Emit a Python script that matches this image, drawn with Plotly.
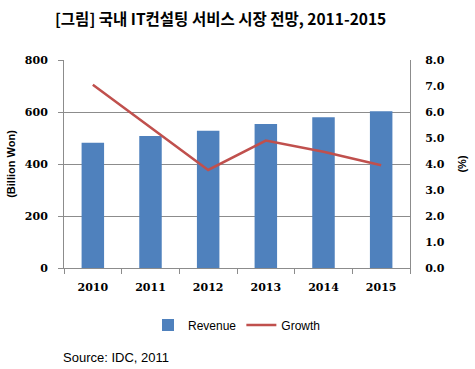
import plotly.graph_objects as go

years = ["2010", "2011", "2012", "2013", "2014", "2015"]
revenue = [482, 508, 528, 554, 580, 603]
growth = [7.05, 5.4, 3.77, 4.9, 4.47, 3.95]

title_text = "[그림] 국내 IT컨설팅 서비스 시장 전망, 2011-2015"
source_text = "Source: IDC, 2011"

tick_font = dict(family="DejaVu Serif", size=11, color="#000000", weight="bold")
grid_col = "#8C8C8C"

fig = go.Figure()
fig.add_trace(go.Bar(x=years, y=revenue, name="Revenue", marker=dict(color="#4F81BD", line=dict(width=0)),
                     width=0.39, yaxis="y"))
fig.add_trace(go.Scatter(x=years, y=growth, name="Growth", mode="lines",
                         line=dict(color="#C0504D", width=2.5), yaxis="y2"))

fig.update_layout(
    width=475, height=369,
    margin=dict(l=64, r=65, t=60, b=101, autoexpand=False),
    paper_bgcolor="white", plot_bgcolor="white",
    showlegend=True,
    legend=dict(orientation="h", x=0.5, xanchor="center", y=-0.274, yanchor="middle",
                font=dict(family="Liberation Sans", size=12, color="#000000"),
                traceorder="normal", itemwidth=30, tracegroupgap=0),
    xaxis=dict(type="category", tickfont=tick_font, showline=True, linecolor=grid_col, linewidth=1,
               ticks="outside", ticklen=5, tickcolor=grid_col, tickson="boundaries", showgrid=False,
               range=[-0.5, 5.5], automargin=False, ticklabelstandoff=9),
    yaxis=dict(range=[0, 800], dtick=200, tickfont=tick_font, showgrid=True, gridcolor=grid_col,
               gridwidth=1, showline=True, linecolor=grid_col, ticks="outside", ticklen=5,
               tickcolor=grid_col, zeroline=False, automargin=False, ticklabelstandoff=8,
               title=dict(text="(Billion Won)", font=dict(family="Liberation Sans", size=11, weight="bold", color="#000000"), standoff=6)),
    yaxis2=dict(range=[0, 8], dtick=1, tickformat=".1f", overlaying="y", side="right",
                tickfont=tick_font, showgrid=False, showline=True, linecolor=grid_col,
                ticks="", zeroline=False, automargin=False, ticklabelstandoff=12,
                title=dict(text="(%)", font=dict(family="Liberation Sans", size=11, weight="bold", color="#000000"), standoff=14)),
    annotations=[
        dict(text=title_text, xref="paper", yref="paper", x=0.451, y=1 + 42/208, xanchor="center", yanchor="middle",
             showarrow=False, font=dict(family="Noto Sans CJK KR", size=15.5, color="#000000", weight="bold")),
        dict(text=source_text, xref="paper", yref="paper", x=-0.01, y=-(357-268)/208, xanchor="left", yanchor="middle",
             showarrow=False, font=dict(family="Liberation Sans", size=13, color="#000000")),
    ],
)

fig.write_html("out.html", config={"displayModeBar": False},
               post_script="document.body.style.margin='0';document.body.style.overflow='hidden';")
